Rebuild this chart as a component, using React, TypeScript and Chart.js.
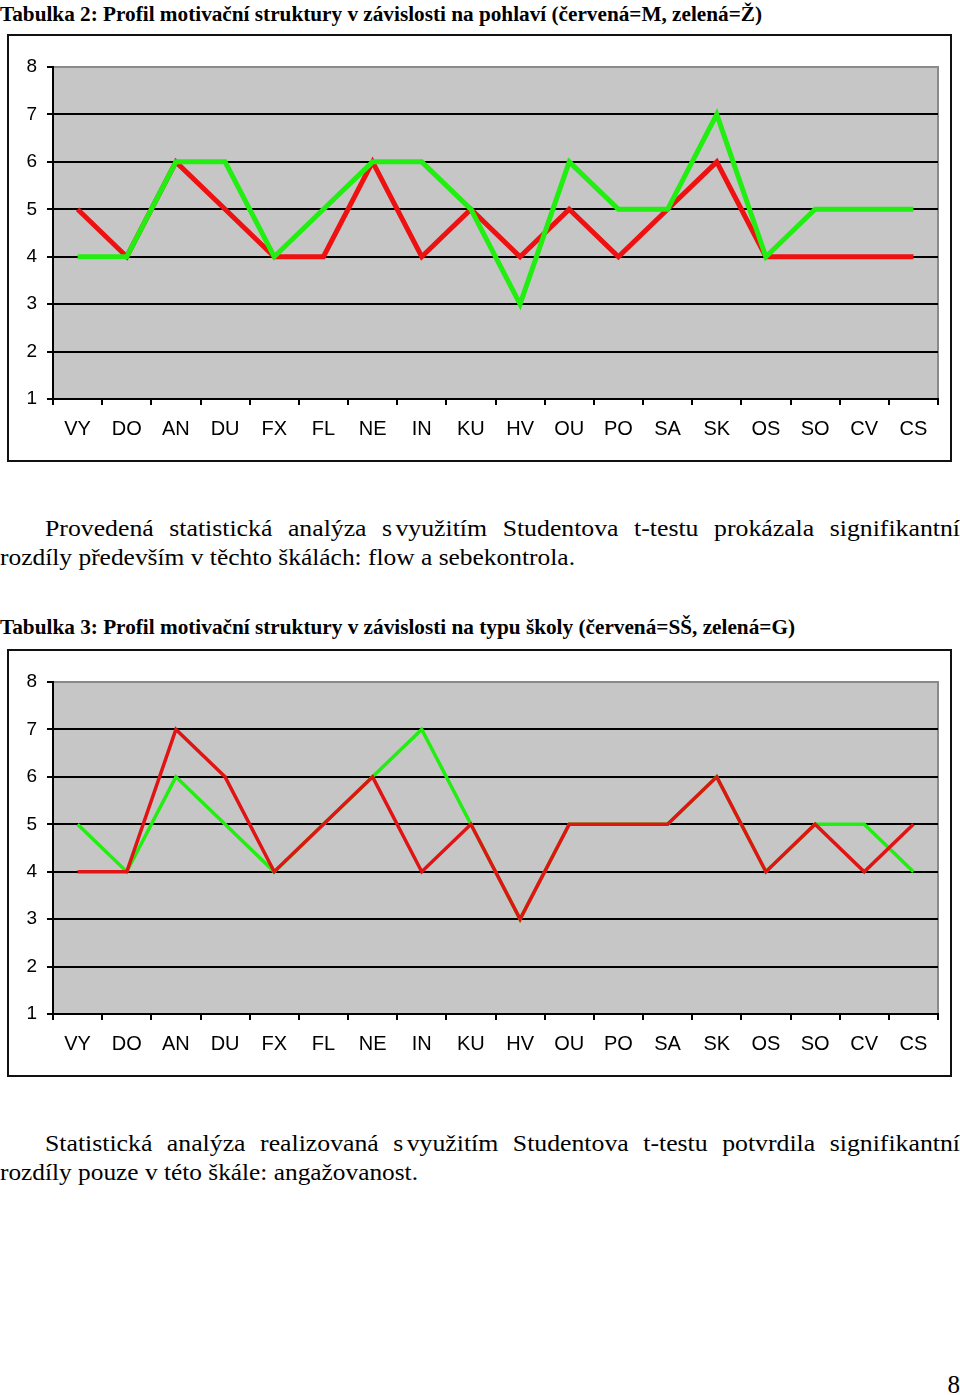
import React, { useEffect, useLayoutEffect, useRef, useState } from 'react';
import { Chart, registerables } from 'chart.js';

Chart.register(...registerables);

// ---------- data ----------
const categories = ['VY', 'DO', 'AN', 'DU', 'FX', 'FL', 'NE', 'IN', 'KU', 'HV', 'OU', 'PO', 'SA', 'SK', 'OS', 'SO', 'CV', 'CS'];
const yTickValues = [1, 2, 3, 4, 5, 6, 7, 8];

// Tabulka 2 (red = M, green = Ž)
const genderMale = [5, 4, 6, 5, 4, 4, 6, 4, 5, 4, 5, 4, 5, 6, 4, 4, 4, 4];
const genderFemale = [4, 4, 6, 6, 4, 5, 6, 6, 5, 3, 6, 5, 5, 7, 4, 5, 5, 5];

// Tabulka 3 (red = SŠ, green = G)
const schoolSS = [4, 4, 7, 6, 4, 5, 6, 4, 5, 3, 5, 5, 5, 6, 4, 5, 4, 5];
const schoolG = [5, 4, 6, 5, 4, 5, 6, 7, 5, 3, 5, 5, 5, 6, 4, 5, 5, 4];

const title2 = 'Tabulka 2: Profil motivační struktury v závislosti na pohlaví (červená=M, zelená=Ž)';
const title3 = 'Tabulka 3: Profil motivační struktury v závislosti na typu školy (červená=SŠ, zelená=G)';
const para1a = 'Provedená statistická analýza s využitím Studentova t-testu prokázala signifikantní';
const para1b = 'rozdíly především v těchto škálách: flow a sebekontrola.';
const para2a = 'Statistická analýza realizovaná s využitím Studentova t-testu potvrdila signifikantní';
const para2b = 'rozdíly pouze v této škále: angažovanost.';
const keepTogether = 's využitím';
const pageNumber = '8';

const RED1 = '#ee1111';
const RED2 = '#e01414';
const GREEN = '#22ee11';

// ---------- chart ----------
const plotBg = {
  id: 'plotBg',
  beforeDraw(chart: any) {
    const { ctx, chartArea: a } = chart;
    ctx.save();
    ctx.fillStyle = '#c6c6c6';
    ctx.fillRect(a.left, a.top, a.right - a.left, a.bottom - a.top);
    ctx.strokeStyle = '#8a8a8a';
    ctx.lineWidth = 2;
    ctx.beginPath();
    ctx.moveTo(a.left, a.top);
    ctx.lineTo(a.right, a.top);
    ctx.lineTo(a.right, a.bottom);
    ctx.stroke();
    ctx.restore();
  },
};

type DS = { data: number[]; color: string; width: number };

function LineChart({ sets, top }: { sets: DS[]; top: number }) {
  const ref = useRef<HTMLCanvasElement>(null);
  useEffect(() => {
    if (!ref.current) return;
    const chart = new Chart(ref.current, {
      type: 'line',
      data: {
        labels: categories,
        datasets: sets.map((s) => ({
          data: s.data,
          borderColor: s.color,
          backgroundColor: s.color,
          borderWidth: s.width,
          pointRadius: 0,
          tension: 0,
          fill: false,
          borderJoinStyle: 'miter' as const,
        })),
      },
      options: {
        responsive: false,
        animation: false,
        events: [],
        layout: { padding: { top: 31, right: 12, left: 0, bottom: 0 } },
        plugins: { legend: { display: false }, tooltip: { enabled: false }, title: { display: false } },
        scales: {
          x: {
            type: 'category',
            offset: true,
            grid: {
              offset: true,
              drawOnChartArea: false,
              drawTicks: true,
              tickLength: 6,
              color: '#000',
              lineWidth: 2,
            },
            border: { display: true, color: '#000', width: 2 },
            ticks: {
              color: '#000',
              padding: 12,
              maxRotation: 0,
              autoSkip: false,
              font: { family: '"Liberation Sans", Arial, sans-serif', size: 20 },
            },
            afterFit: (s: any) => {
              s.height = 61;
            },
          },
          y: {
            type: 'linear',
            min: 1,
            max: 8,
            afterBuildTicks: (s: any) => {
              s.ticks = yTickValues.map((v) => ({ value: v }));
            },
            grid: {
              color: (c: any) => (c.tick && c.tick.value === 8 ? '#8a8a8a' : '#000'),
              tickColor: '#000',
              lineWidth: 2,
              tickLength: 6,
            },
            border: { display: true, color: '#000', width: 2 },
            ticks: {
              color: '#000',
              padding: 10,
              font: { family: '"Liberation Sans", Arial, sans-serif', size: 19 },
            },
            afterFit: (s: any) => {
              s.width = 44;
            },
          },
        },
      },
      plugins: [plotBg],
    });
    return () => chart.destroy();
  }, [sets]);
  return (
    <div
      style={{
        position: 'absolute',
        left: 7,
        top,
        width: 945,
        height: 428,
        border: '2px solid #111',
        boxSizing: 'border-box',
        background: '#fff',
      }}
    >
      <canvas ref={ref} width={941} height={424} style={{ display: 'block' }} />
    </div>
  );
}

// ---------- text ----------
const SERIF = '"Liberation Serif", "Times New Roman", serif';
const STRETCH = 1.12;

function FitLine({
  text,
  left,
  top,
  width,
  size,
  bold,
}: {
  text: string;
  left: number;
  top: number;
  width: number;
  size: number;
  bold?: boolean;
}) {
  const ref = useRef<HTMLSpanElement>(null);
  const [scale, setScale] = useState(1);
  useLayoutEffect(() => {
    if (!ref.current) return;
    const w = ref.current.getBoundingClientRect().width;
    if (w > 0) setScale(width / w);
  }, [text, width]);
  return (
    <div
      style={{
        position: 'absolute',
        left,
        top,
        fontFamily: SERIF,
        fontSize: size,
        lineHeight: 1,
        fontWeight: bold ? 'bold' : 'normal',
        color: '#000',
        whiteSpace: 'nowrap',
        transform: `scaleX(${scale})`,
        transformOrigin: 'left top',
      }}
    >
      <span ref={ref}>{text}</span>
    </div>
  );
}

function JustLine({ text, left, top, width, size }: { text: string; left: number; top: number; width: number; size: number }) {
  const parts = text.split(keepTogether);
  return (
    <div
      style={{
        position: 'absolute',
        left,
        top,
        width: width / STRETCH,
        fontFamily: SERIF,
        fontSize: size,
        lineHeight: 1,
        color: '#000',
        textAlign: 'justify',
        textAlignLast: 'justify' as any,
        transform: `scaleX(${STRETCH})`,
        transformOrigin: 'left top',
      }}
    >
      {parts.length === 2 ? (
        <>
          {parts[0]}
          <span style={{ display: 'inline-block', whiteSpace: 'pre', wordSpacing: '-0.12em' }}>{keepTogether}</span>
          {parts[1]}
        </>
      ) : (
        text
      )}
    </div>
  );
}

const chart1Sets: DS[] = [
  { data: genderFemale, color: GREEN, width: 5 },
  { data: genderMale, color: RED1, width: 5 },
];
const chart2Sets: DS[] = [
  { data: schoolSS, color: RED2, width: 3.5 },
  { data: schoolG, color: GREEN, width: 3.5 },
];

export default function App() {
  return (
    <div style={{ position: 'absolute', left: 0, top: 0, width: 960, height: 1395, background: '#fff', overflow: 'hidden' }}>
      <FitLine text={title2} left={0} top={4} width={762} size={20} bold />
      <LineChart sets={chart1Sets} top={34} />
      <JustLine text={para1a} left={45} top={517} width={915} size={23} />
      <FitLine text={para1b} left={0} top={546} width={575} size={23} />
      <FitLine text={title3} left={0} top={616} width={795} size={22} bold />
      <LineChart sets={chart2Sets} top={649} />
      <JustLine text={para2a} left={45} top={1132} width={915} size={23} />
      <FitLine text={para2b} left={0} top={1161} width={418} size={23} />
      <div
        style={{
          position: 'absolute',
          right: 0,
          top: 1372,
          fontFamily: SERIF,
          fontSize: 25,
          lineHeight: 1,
          color: '#000',
        }}
      >
        {pageNumber}
      </div>
    </div>
  );
}
